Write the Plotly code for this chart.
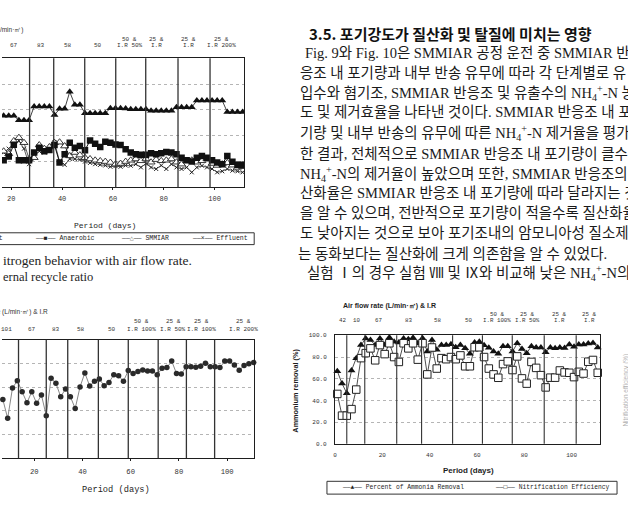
import plotly.graph_objects as go

W, H = 628, 507
def px(x): return x / W
def py(y): return 1 - y / H

# ---------------- Chart A (top-left, Fig. 9 NH4+-N behaviour) ----------------
days_a = list(range(17, 112, 2))
influent_a = [55.5, 55.5, 55.5, 52, 52, 52, 62.6, 62.6, 62.6, 62.6, 56, 60.8, 60.8, 74, 64, 64,
              57.5, 57.5, 57.5, 57.5, 57.5, 61.3, 61.3, 61.3, 61, 60.5, 60.5, 60.5, 60.5, 59.3, 59.3, 59.3,
              59.3, 59.3, 62, 62, 62, 62, 67.2, 67.2, 67.2, 67.2, 67.2, 67.2, 58.3, 58.3, 58.3, 58.3]
anaerobic_a = [21, 24, 33, 21, 21, 21, 27, 30.8, 28, 29, 32.8, 19.3, 25.7, 34.6, 30.8, 32,
               28.8, 36.4, 33.8, 31.3, 35.4, 34.6, 33.3, 32.8, 29.5, 27, 25.6, 25.2, 25.2, 26.5, 25.6, 26.5,
               27.5, 27, 25.6, 23, 21, 20, 23, 24.4, 23, 21, 19.3, 18, 24.4, 19.8, 17.6, 17.6]
smmiar_a = [28, 26, 36, 38.5, 34.6, 22, 23, 32.8, 30, 31.3, 34.6, 35, 32, 24.4, 27, 25,
            23, 22, 21, 20.5, 20, 19.3, 18, 18.5, 20, 21, 22, 20.6, 22, 19.5, 21.5, 20.6,
            21, 22, 19.5, 18, 20.6, 21, 19.5, 20.6, 22, 18.5, 17, 18, 19, 17.2, 15.5, 16]
effluent_a = [27, 30, 34, 36, 30, 18, 24, 28, 27, 29, 35, 20, 17.5, 22, 22, 21.5,
              20, 19, 18, 17.5, 17, 16, 16.5, 16, 17, 16.8, 18, 15.5, 18.5, 15.5, 14.3, 17,
              14.3, 18, 15.5, 14.3, 15.5, 11.7, 15.5, 16.8, 15.5, 14.3, 11.7, 12.5, 14.3, 13, 12.5, 11.7]
stages_a = [27.2, 36.7, 48.9, 61.1, 72.9, 85.6, 98.2]
stage_label_a = ["67", "83", "58", "50", "50 &|I.R 50%", "25 &|I.R", "25 &|I.R", "25 &|I.R 200%"]
stage_label_day_a = [21.1, 31.6, 42.2, 54, 66.6, 77.1, 89.7, 102.6]

# ---------------- Chart B (bottom-left) ----------------
days_b = list(range(7, 112, 2))
removal_b = [49.6, 33.6, 59.3, 65.4, 56, 46.9, 56, 46.3, 53.3, 35.8, 67.6, 63.2, 51.9, 58.5, 51.9, 41.9,
             60.2, 72, 61, 64.9, 66.8, 61.2, 64, 70.4, 69.6, 64.9, 74, 71.5, 73.2, 74.5, 73.7, 73.7,
             70.4, 75.9, 76.5, 82, 71.5, 71, 77.3, 77.3, 76.8, 77.6, 80.1, 77.3, 77.3, 76.5, 82, 82,
             78.7, 74.3, 78.2, 79.8, 80.9]
stages_b = [13.5, 25, 33.9, 46.6, 59, 71.4, 83.1, 94.8]
stage_label_b = ["101", "67", "83", "58", "50", "50 &|I.R 100%", "25 &|I.R 50%", "25 &|I.R 100%", "25 &|I.R 200%"]
stage_label_day_b = [8.7, 19, 29, 39.3, 52.1, 64.5, 77.7, 89.3, 106.7]

# ---------------- Chart C (bottom-right, Fig. 10) ----------------
days_c = list(range(1, 112, 2))
ammonia_removal_c = [67, 55.5, 46.7, 67.6, 79, 91, 97, 95.7, 91, 97, 91, 98, 94, 93.3, 97, 96.4,
                     97.9, 92.7, 97.3, 85, 95.7, 86.7, 91, 91, 91.8, 89, 91, 88.2, 83, 93.5, 94.2, 90.8,
                     88.5, 85, 83, 90, 90, 85, 92.7, 87.5, 83.6, 90, 88.8, 88.8, 84.5, 88.9, 88, 88.8,
                     88.4, 91.5, 89.5, 91.6, 91.5, 92.5, 93, 88.8]
nitrification_c = [46, 26, 26, 32, 50, 79, 83.6, 88, 77, 91, 82.7, 92.7, 80, 75.5, 92.7, 88,
                   92.7, 77.6, 92.7, 64, 88.8, 69.4, 79, 78, 80, 78, 81.5, 71.5, 71.5, 89, 89, 80,
                   69.4, 64, 60.9, 73.5, 76, 68, 80.6, 60.3, 55.5, 75.5, 70, 63.3, 52, 61, 61, 67.6,
                   65.8, 65.5, 61.5, 66.4, 64.8, 75.7, 77.3, 65.5]
stages_c = [5, 12.6, 26.1, 36.6, 49.7, 62.3, 74.9, 88.4, 101.9]
stage_label_c = ["42", "10", "67", "83", "58", "50", "50 &|I.R 100%", "25 &|I.R 50%", "25 &|I.R", "25 &|I.R"]
stage_label_day_c = [3.4, 9.3, 18.5, 31.2, 43.4, 56.4, 68.6, 81.3, 94.7, 107.4]
ticks_pct = [0, 20, 40, 60, 80, 100]
ticks_days = [20, 40, 60, 80, 100]

# ---------------- Text column ----------------
title_text = "3.5. 포기강도가 질산화 및 탈질에 미치는 영향"
NH4 = "NH<sub>4</sub><sup>+</sup>-N"
body_lines = [
    "Fig. 9와 Fig. 10은 SMMIAR 공정 운전 중 SMMIAR 반",
    "응조 내 포기량과 내부 반송 유무에 따라 각 단계별로 유",
    "입수와 혐기조, SMMIAR 반응조 및 유출수의 " + NH4 + " 농",
    "도 및 제거효율을 나타낸 것이다. SMMIAR 반응조 내 포",
    "기량 및 내부 반송의 유무에 따른 " + NH4 + " 제거율을 평가",
    "한 결과, 전체적으로 SMMIAR 반응조 내 포기량이 클수록",
    NH4 + "의 제거율이 높았으며 또한, SMMIAR 반응조의 질",
    "산화율은 SMMIAR 반응조 내 포기량에 따라 달라지는 것",
    "을 알 수 있으며, 전반적으로 포기량이 적을수록 질산화율",
    "도 낮아지는 것으로 보아 포기조내의 암모니아성 질소제거",
    "는 동화보다는 질산화에 크게 의존함을 알 수 있었다.",
    "실험 Ⅰ의 경우 실험 Ⅷ 및 Ⅸ와 비교해 낮은 " + NH4 + "의",
]
body_y = [50.7, 71, 91, 111, 132, 152.7, 173, 193, 213, 233.5, 255, 273.5]
body_x = [303, 298, 298, 298, 298, 298, 298, 298, 298, 298, 296, 305]

mono = "Liberation Mono, DejaVu Sans Mono, monospace"
sans = "Liberation Sans, Arial, sans-serif"
serif = "Liberation Serif, Noto Sans CJK KR, serif"
kr = "Noto Sans CJK KR, sans-serif"
INK = "#1e1e1e"

fig = go.Figure()

# Chart A traces
fig.add_trace(go.Scatter(x=days_a, y=effluent_a, xaxis="x", yaxis="y", mode="lines+markers",
                         line=dict(color="#333", width=0.8),
                         marker=dict(symbol="x-thin", size=4, line=dict(color="#222", width=1))))
fig.add_trace(go.Scatter(x=days_a, y=smmiar_a, xaxis="x", yaxis="y", mode="lines+markers",
                         line=dict(color="#333", width=0.8),
                         marker=dict(symbol="triangle-up", size=7, color="white", line=dict(color="#222", width=0.9))))
fig.add_trace(go.Scatter(x=days_a, y=anaerobic_a, xaxis="x", yaxis="y", mode="lines+markers",
                         line=dict(color="#111", width=1),
                         marker=dict(symbol="square", size=6.5, color="#111")))
fig.add_trace(go.Scatter(x=days_a, y=influent_a, xaxis="x", yaxis="y", mode="lines+markers",
                         line=dict(color="#111", width=0.8),
                         marker=dict(symbol="triangle-up", size=7, color="#111")))

# Chart B trace
fig.add_trace(go.Scatter(x=days_b, y=removal_b, xaxis="x2", yaxis="y2", mode="lines+markers",
                         line=dict(color="#888", width=1), cliponaxis=False,
                         marker=dict(symbol="circle", size=5.5, color="#2a2a2a")))

# Chart C traces
fig.add_trace(go.Scatter(x=days_c, y=ammonia_removal_c, xaxis="x3", yaxis="y3", mode="lines+markers",
                         line=dict(color="#222", width=0.8), cliponaxis=False,
                         marker=dict(symbol="triangle-up", size=7, color="#111")))
fig.add_trace(go.Scatter(x=days_c, y=nitrification_c, xaxis="x3", yaxis="y3", mode="lines+markers",
                         line=dict(color="#222", width=0.8), cliponaxis=False,
                         marker=dict(symbol="square", size=7.5, color="white", line=dict(color="#222", width=1))))

xbase = dict(showgrid=False, zeroline=False, showline=True, linecolor=INK, linewidth=1, mirror=True,
             ticks="outside", ticklen=2, tickcolor=INK, tickvals=ticks_days)
ybase = dict(range=[0, 100], tickvals=ticks_pct, showgrid=True, gridcolor="#b5b5b5", griddash="dot",
             gridwidth=1, zeroline=False, showline=True, linecolor=INK, linewidth=1)

shapes = []
for d in stages_a:
    shapes.append(dict(type="line", xref="x", yref="y domain", x0=d, x1=d, y0=0, y1=1,
                       line=dict(color="#333", width=1.3)))
for d in stages_b:
    shapes.append(dict(type="line", xref="x2", yref="y2 domain", x0=d, x1=d, y0=0, y1=1,
                       line=dict(color="#333", width=1.3)))
for d in stages_c:
    shapes.append(dict(type="line", xref="x3", yref="y3 domain", x0=d, x1=d, y0=0, y1=1,
                       line=dict(color="#333", width=1.1)))
# legend boxes
shapes.append(dict(type="rect", xref="paper", yref="paper", x0=px(-5), x1=px(253), y0=py(245), y1=py(233),
                   line=dict(color="#333", width=1)))
shapes.append(dict(type="rect", xref="paper", yref="paper", x0=px(326), x1=px(617), y0=py(498), y1=py(485),
                   line=dict(color="#333", width=1)))

anns = []
def ann(x, y, text, size, family, xanchor="center", yanchor="middle", color=INK, angle=0, weight=None):
    f = dict(family=family, size=size, color=color)
    if weight:
        f["weight"] = weight
    anns.append(dict(x=px(x), y=py(y), xref="paper", yref="paper", text=text, showarrow=False,
                     xanchor=xanchor, yanchor=yanchor, font=f, textangle=angle, borderpad=0))

def stage_ann(xref, day, y_last, text, size, gap):
    parts = text.split("|")
    for i, part in enumerate(reversed(parts)):
        anns.append(dict(x=day, y=py(y_last - i * gap), xref=xref, yref="paper", text=part,
                         showarrow=False, xanchor="center", yanchor="middle", borderpad=0,
                         font=dict(family=mono, size=size, color="#333")))

# Chart A texts
ann(23, 27, "Air flow rate (L/min·㎡)", 6.5, sans, xanchor="right", color="#333")
for d, t in zip(stage_label_day_a, stage_label_a):
    stage_ann("x", d, 43.3, t, 6, 6.5)
ann(103, 226, "Period (days)", 8, mono)
ann(2, 239, "──▲── Influent", 6.5, mono, xanchor="right")
ann(32, 239, "──■── Anaerobic", 6.5, mono, xanchor="left")
ann(118, 239, "──△── SMMIAR", 6.5, mono, xanchor="left")
ann(190, 239, "──×── Effluent", 6.5, mono, xanchor="left")

# captions
ann(0, 261, "itrogen behavior with air flow rate.", 13.5, "Liberation Serif, serif", xanchor="left")
ann(0, 278, "ernal recycle ratio", 12.5, "Liberation Serif, serif", xanchor="left")

# Chart B texts
ann(47, 313, "Air flow rate (L/min·㎡) & I.R", 6.5, sans, xanchor="right", color="#333")
for d, t in zip(stage_label_day_b, stage_label_b):
    stage_ann("x2", d, 331, t, 6, 8)
ann(114, 494, "Period (days)", 8.7, mono)

# Chart C texts
ann(341, 307, "Air flow rate (L/min·㎥) & I.R", 7, sans, xanchor="left", weight="bold")
for d, t in zip(stage_label_day_c, stage_label_c):
    stage_ann("x3", d, 322, t, 5.8, 6.5)
ann(468, 474, "Period (days)", 8, sans, weight="bold")
ann(295, 393, "Ammonium removal (%)", 7.3, sans, angle=-90, weight="bold")
ann(626, 393, "Nitrification efficiency (%)", 6.5, sans, angle=-90, color="#b0b0b0")
ann(340, 491.5, "──▲── Percent of Ammonia Removal", 6.3, mono, xanchor="left")
ann(494, 491.5, "──□── Nitrification Efficiency", 6.3, mono, xanchor="left")

# Text column
ann(307, 30.7, title_text, 15, kr, xanchor="left", weight=700, color="#111")
for x, y, t in zip(body_x, body_y, body_lines):
    ann(x, y, t, 14.5, serif, xanchor="left", color="#1a1a1a")

fig.update_layout(
    width=W, height=H, margin=dict(l=0, r=0, t=0, b=0),
    paper_bgcolor="white", plot_bgcolor="white", showlegend=False,
    xaxis=dict(xbase, domain=[0, px(243)], range=[16.35, 111.65], anchor="y", ticklabelstandoff=2,
               tickfont=dict(family=mono, size=7, color="#333")),
    yaxis=dict(ybase, domain=[py(187), py(56)], anchor="x", side="right", showticklabels=False, ticks=""),
    xaxis2=dict(xbase, domain=[0, px(252.5)], range=[6.65, 111], anchor="y2", ticklabelstandoff=4,
                tickfont=dict(family=mono, size=7.2, color="#333")),
    yaxis2=dict(ybase, domain=[py(461.5), py(341.5)], anchor="x2", side="right", showticklabels=False, ticks=""),
    xaxis3=dict(xbase, domain=[px(334), px(600)], range=[0, 112], anchor="y3", ticks="",
                tickvals=[0] + ticks_days, ticklabelstandoff=5,
                tickfont=dict(family=mono, size=6, color="#333")),
    yaxis3=dict(ybase, domain=[py(447), py(337)], anchor="x3", mirror=True, ticks="",
                tickformat=".1f", ticklabelstandoff=6, tickfont=dict(family=mono, size=6, color="#333")),
    yaxis4=dict(range=[0, 100], tickvals=ticks_pct, overlaying="y3", anchor="x3", side="right",
                showgrid=False, zeroline=False, showline=False, ticks="", tickformat=".1f",
                ticklabelstandoff=5, tickfont=dict(family=mono, size=6, color="#333")),
    shapes=shapes, annotations=anns,
)

fig.write_html("out.html")
